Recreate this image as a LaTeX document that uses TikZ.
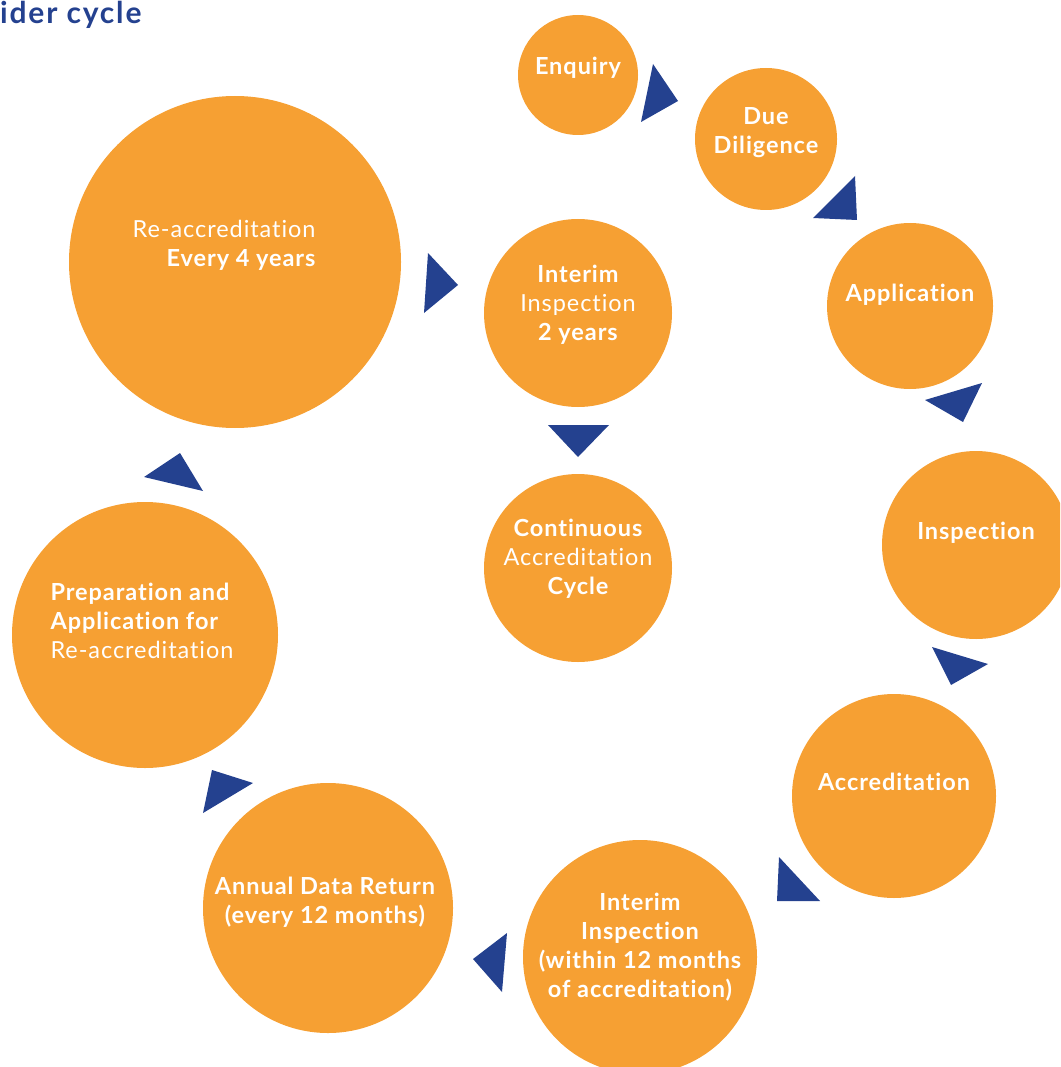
\documentclass[tikz,border=0pt]{standalone}
\usepackage{fontspec}
\setmainfont[Ligatures=NoCommon, LetterSpace=4]{Lato}
\newfontfamily\titlefont[Ligatures=NoCommon, LetterSpace=6]{Lato}
\definecolor{cycorange}{HTML}{F6A033}
\definecolor{cycblue}{HTML}{24418F}
\tikzset{
  stage/.style={circle, fill=cycorange, inner sep=0pt},
  lbl/.style={text=white, align=center, font=\fontsize{23.5}{29}\selectfont},
  tri/.style={fill=cycblue},
}
\begin{document}
\begin{tikzpicture}[x=1pt, y=-1pt]
        \useasboundingbox (0,0) rectangle (1060,1067);
        \clip (0,0) rectangle (1060,1067);

        % circles
        \node[stage, minimum size=120pt] (enq) at (578,75) {};
        \node[stage, minimum size=142pt] (due) at (766,139) {};
        \node[stage, minimum size=166pt] (app) at (910,306) {};
        \node[stage, minimum size=188pt] (insp) at (976,545) {};
        \node[stage, minimum size=204pt] (accr) at (894,796) {};
        \node[stage, minimum size=234pt] (int12) at (640,957) {};
        \node[stage, minimum size=250pt] (annual) at (328,908) {};
        \node[stage, minimum size=266pt] (prep) at (145,635) {};
        \node[stage, minimum size=332pt] (reacc) at (235,262) {};
        \node[stage, minimum size=188pt] (int2) at (578,313) {};
        \node[stage, minimum size=188pt] (cont) at (578,568) {};

        % labels
        \node[lbl] (enqtxt) at ([yshift=7pt]enq.center) {\bfseries Enquiry};
        \node[lbl] (duetxt) at ([yshift=6pt]due.center) {\bfseries Due\\\bfseries Diligence};
        \node[lbl] (apptxt) at ([yshift=11pt]app.center) {\bfseries Application};
        \node[lbl] (insptxt) at ([yshift=12pt]insp.center) {\bfseries Inspection};
        \node[lbl] (accrtxt) at ([yshift=14pt]accr.center) {\bfseries Accreditation};
        \node[lbl] (int12txt) at ([yshift=10pt]int12.center) {\bfseries Interim\\\bfseries Inspection\\\bfseries (within 12 months\\\bfseries of accreditation)};
        \node[lbl] (annualtxt) at ([xshift=-3pt, yshift=6pt]annual.center) {\bfseries Annual Data Return\\\bfseries (every 12 months)};
        \node[lbl, align=left, anchor=west] (preptxt) at (47,621) {\bfseries Preparation and\\\bfseries Application for\\Re-accreditation};
        \node[lbl, align=right, anchor=east] (reacctxt) at (319,245) {Re-accreditation\\\bfseries Every 4 years};
        \node[lbl] (int2txt) at (578,305) {\bfseries Interim\\Inspection\\\bfseries 2 years};
        \node[lbl] (conttxt) at (578,559) {\bfseries Continuous\\Accreditation\\\bfseries Cycle};

        % arrow heads
        \fill[tri] (653,64) -- (678,101) -- (641,122) -- cycle;
        \fill[tri] (855,176) -- (857,220) -- (813,218) -- cycle;
        \fill[tri] (982,383) -- (963,422) -- (925,400) -- cycle;
        \fill[tri] (932,647) -- (988,664) -- (951,685) -- cycle;
        \fill[tri] (779,857) -- (820,901) -- (777,901) -- cycle;
        \fill[tri] (507,933) -- (473,959) -- (502,992) -- cycle;
        \fill[tri] (212,770) -- (253,783) -- (203,813) -- cycle;
        \fill[tri] (180,453) -- (203,491) -- (144,477) -- cycle;
        \fill[tri] (428,253) -- (458,285) -- (424,313) -- cycle;
        \fill[tri] (548,425) -- (609,425) -- (578,457) -- cycle;

        \node[anchor=base west, inner sep=0pt, text=cycblue, font=\titlefont\fontsize{30}{36}\selectfont\bfseries] (title) at (0,24) {ider cycle};
\end{tikzpicture}
\end{document}
